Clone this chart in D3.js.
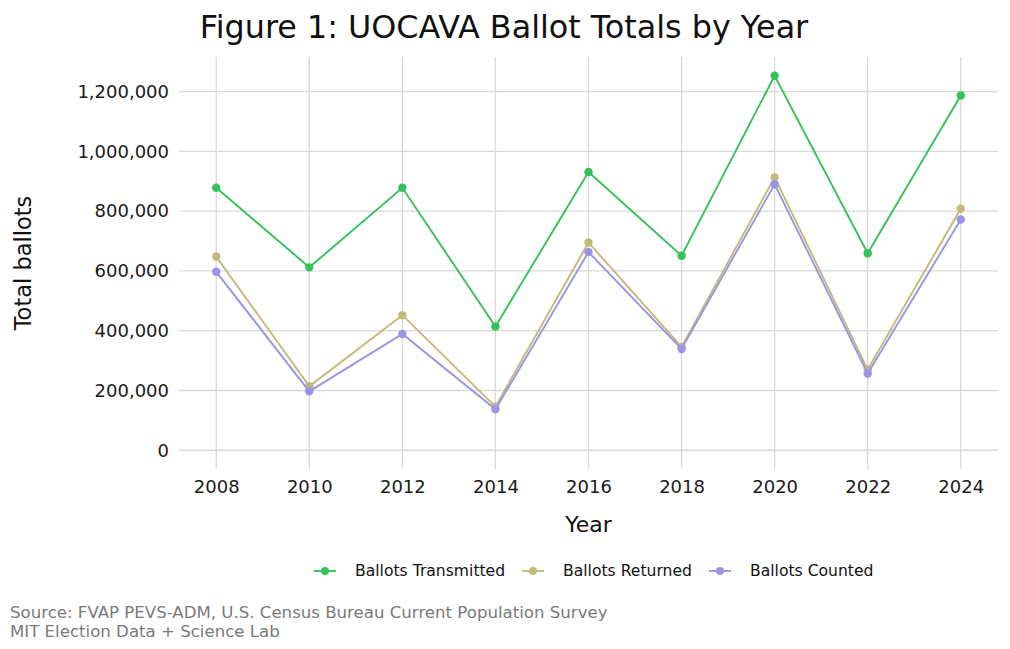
<!DOCTYPE html>
<meta charset="utf-8">
<title>UOCAVA Ballot Totals</title>
<script src="https://d3js.org/d3.v7.min.js"></script>
<style>
  body { margin: 0; background: #fff; }
  text { font-family: "DejaVu Sans", sans-serif; }
</style>
<body>
<div id="chart"></div>
<script>
  // data
  var years = [2008, 2010, 2012, 2014, 2016, 2018, 2020, 2022, 2024];
  var transmitted = [878000, 612000, 878000, 414000, 931000, 651000, 1253000, 659000, 1187000];
  var returned = [648000, 214000, 452000, 146000, 695000, 346000, 913000, 270000, 808000];
  var counted = [597000, 197000, 389000, 137000, 663000, 339000, 890000, 257000, 772000];
  var seriesNames = ["Ballots Transmitted", "Ballots Returned", "Ballots Counted"];
  var seriesColors = ["#35c25a", "#c2ba7a", "#9b93e6"];
  var yTicks = [0, 200000, 400000, 600000, 800000, 1000000, 1200000];

  var W = 1010, H = 649;
  var margin = {top: 57, right: 12, bottom: 180, left: 179};
  var width = W - margin.left - margin.right,
      height = H - margin.top - margin.bottom;

  var series = [transmitted, returned, counted].map(function(vals, i) {
    return {name: seriesNames[i], color: seriesColors[i],
            values: years.map(function(y, j) { return {year: y, value: vals[j]}; })};
  });

  var svg = d3.select("#chart").append("svg")
      .attr("width", W).attr("height", H);

  var g = svg.append("g")
      .attr("transform", "translate(" + margin.left + "," + margin.top + ")");

  // ggplot style 5% expansion
  var xPad = (2024 - 2008) * 0.05;
  var x = d3.scaleLinear().domain([2008 - xPad, 2024 + xPad]).range([0, width]);
  var yMax = d3.max(transmitted);
  var yPad = yMax * 0.05;
  var y = d3.scaleLinear().domain([-yPad, yMax + yPad]).range([height, 0]);

  // grid
  g.append("g").selectAll("line").data(yTicks).join("line")
    .attr("x1", 0).attr("x2", width)
    .attr("y1", d => y(d)).attr("y2", d => y(d))
    .attr("stroke", "#d9d9d9").attr("stroke-width", 1.3);
  g.append("g").selectAll("line").data(years).join("line")
    .attr("y1", 0).attr("y2", height)
    .attr("x1", d => x(d)).attr("x2", d => x(d))
    .attr("stroke", "#d9d9d9").attr("stroke-width", 1.3);

  // axes (labels only)
  var yAxis = g.append("g")
    .call(d3.axisLeft(y).tickValues(yTicks).tickSize(0).tickPadding(10).tickFormat(d3.format(",")));
  var xAxis = g.append("g")
    .attr("transform", "translate(0," + height + ")")
    .call(d3.axisBottom(x).tickValues(years).tickSize(0).tickPadding(11).tickFormat(d3.format("d")));
  [yAxis, xAxis].forEach(function(a) {
    a.select(".domain").remove();
    a.selectAll("text").attr("font-family", "DejaVu Sans").attr("font-size", 18).attr("fill", "#1a1a1a");
  });

  // lines and points
  var line = d3.line().x(d => x(d.year)).y(d => y(d.value));
  var sg = g.selectAll(".series").data(series).join("g");
  sg.append("path")
    .attr("d", d => line(d.values))
    .attr("fill", "none")
    .attr("stroke", d => d.color)
    .attr("stroke-width", 1.9);
  sg.each(function(s) {
    d3.select(this).selectAll("circle").data(s.values).join("circle")
      .attr("cx", d => x(d.year)).attr("cy", d => y(d.value))
      .attr("r", 4.2).attr("fill", s.color);
  });

  // titles
  svg.append("text")
    .attr("x", 504).attr("y", 38)
    .attr("text-anchor", "middle")
    .attr("font-size", 31.8)
    .attr("fill", "#111")
    .text("Figure 1: UOCAVA Ballot Totals by Year");

  svg.append("text")
    .attr("transform", "translate(31," + (margin.top + height / 2) + ") rotate(-90)")
    .attr("text-anchor", "middle")
    .attr("font-size", 22.5)
    .attr("fill", "#111")
    .text("Total ballots");

  svg.append("text")
    .attr("x", margin.left + x(2016)).attr("y", 532)
    .attr("text-anchor", "middle")
    .attr("font-size", 22)
    .attr("fill", "#111")
    .text("Year");

  // legend
  var legendX = [314, 522, 709];
  var leg = svg.append("g").selectAll("g").data(series).join("g")
    .attr("transform", (d, i) => "translate(" + legendX[i] + ",571)");
  leg.append("line").attr("x1", 0).attr("x2", 22)
    .attr("stroke", d => d.color).attr("stroke-width", 1.9);
  leg.append("circle").attr("cx", 11).attr("r", 4).attr("fill", d => d.color);
  leg.append("text").attr("x", 41).attr("dy", "0.35em")
    .attr("font-size", 15.6).attr("fill", "#111")
    .text(d => d.name);

  // caption
  svg.append("text").attr("x", 10).attr("y", 618)
    .attr("font-size", 16.6).attr("fill", "#7a7a7a")
    .text("Source: FVAP PEVS-ADM, U.S. Census Bureau Current Population Survey");
  svg.append("text").attr("x", 10).attr("y", 637)
    .attr("font-size", 16.6).attr("fill", "#7a7a7a")
    .text("MIT Election Data + Science Lab");
</script>
</body>
